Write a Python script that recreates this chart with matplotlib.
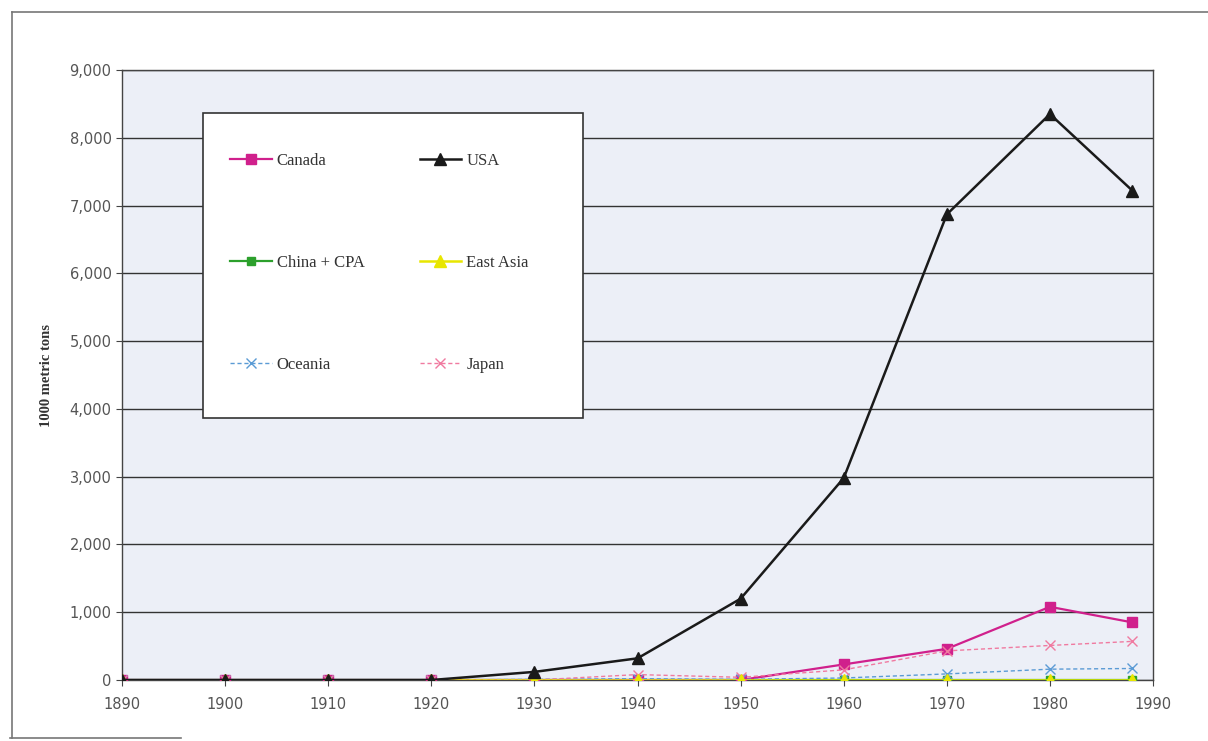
"""
Recreation of a scanned line chart: consumption by region, 1890-1988
"""
import numpy as np
import matplotlib
matplotlib.use("Agg")
import matplotlib.pyplot as plt
from matplotlib.lines import Line2D
from matplotlib.patches import Rectangle
from matplotlib.ticker import FuncFormatter

# データ
years = [1890, 1900, 1910, 1920, 1930, 1940, 1950, 1960, 1970, 1980, 1988]
usa = [0, 0, 0, 0, 120, 320, 1200, 2980, 6870, 8350, 7220]
canada = [0, 0, 0, 0, 0, 0, 0, 230, 460, 1080, 850]
china_cpa = [0, 0, 0, 0, 0, 0, 0, 0, 0, 0, 0]
east_asia = [0, 0, 0, 0, 0, 0, 0, 0, 0, 0, 0]
oceania = [0, 0, 0, 0, 10, 20, 10, 30, 90, 160, 170]
japan = [0, 0, 0, 0, 0, 80, 40, 150, 430, 510, 570]

x_ticks = [1890, 1900, 1910, 1920, 1930, 1940, 1950, 1960, 1970, 1980, 1990]
y_ticks = [0, 1000, 2000, 3000, 4000, 5000, 6000, 7000, 8000, 9000]

fig = plt.figure(figsize=(12.08, 7.41), dpi=100)
ax = fig.add_axes([0.101, 0.0823, 0.8535, 0.8232])
ax.set_facecolor("#eceff7")

# 外枠
for xs, ys in [((0.010, 0.010), (0.004, 0.984)),
               ((0.010, 1.0), (0.984, 0.984)),
               ((0.008, 0.15), (0.004, 0.004))]:
    fig.add_artist(Line2D(xs, ys, transform=fig.transFigure,
                          color="#777777", linewidth=1.2))

ax.plot(years, canada, color="#d0208c", marker="s", markersize=7,
        linewidth=1.6, label="Canada", zorder=4)
ax.plot(years, china_cpa, color="#2ca02c", marker="s", markersize=6,
        linewidth=1.6, label="China + CPA", zorder=3)
ax.plot(years, oceania, color="#5b9bd5", marker="x", markersize=7,
        linewidth=1.0, linestyle=(0, (3, 2)), label="Oceania", zorder=4)
ax.plot(years, usa, color="#1a1a1a", marker="^", markersize=8,
        linewidth=1.8, label="USA", zorder=5)
ax.plot(years, east_asia, color="#e8e600", marker="^", markersize=8,
        linewidth=1.8, label="East Asia", zorder=4.5)
ax.plot(years, japan, color="#f07aa0", marker="x", markersize=7,
        linewidth=1.0, linestyle=(0, (3, 2)), label="Japan", zorder=4)

ax.set_xlim(1890, 1990)
ax.set_ylim(0, 9000)
ax.set_xticks(x_ticks)
ax.set_yticks(y_ticks)
ax.yaxis.set_major_formatter(FuncFormatter(lambda v, p: f"{int(v):,}"))
ax.grid(axis="y", color="#333333", linewidth=1.0)
ax.set_axisbelow(True)

for side in ["left", "bottom", "top", "right"]:
    ax.spines[side].set_color("#444444")
    ax.spines[side].set_linewidth(1.0)

ax.tick_params(axis="both", colors="#444444", labelcolor="#555555",
               labelsize=10.5, length=4, direction="out")
ax.tick_params(axis="x", pad=8)
ax.set_ylabel("1000 metric tons", family="Liberation Serif",
              fontweight="bold", fontsize=10.5, color="#333333", labelpad=12)

# 凡例の枠
box = Rectangle((0.0786, 0.4295), 0.3686, 0.5, transform=ax.transAxes,
                facecolor="white", edgecolor="#333333", linewidth=1.2,
                zorder=6)
ax.add_patch(box)

leg = ax.legend(loc="upper left", bbox_to_anchor=(0.1048, 0.864),
                ncol=2, prop={"family": "Liberation Serif", "size": 12},
                frameon=False, labelspacing=5.15,
                handlelength=2.5, handletextpad=0.3, columnspacing=3.3,
                borderpad=0.0, borderaxespad=0.0)
leg.set_zorder(7)
for t in leg.get_texts():
    t.set_color("#333333")

fig.savefig("out.png", dpi=100)
